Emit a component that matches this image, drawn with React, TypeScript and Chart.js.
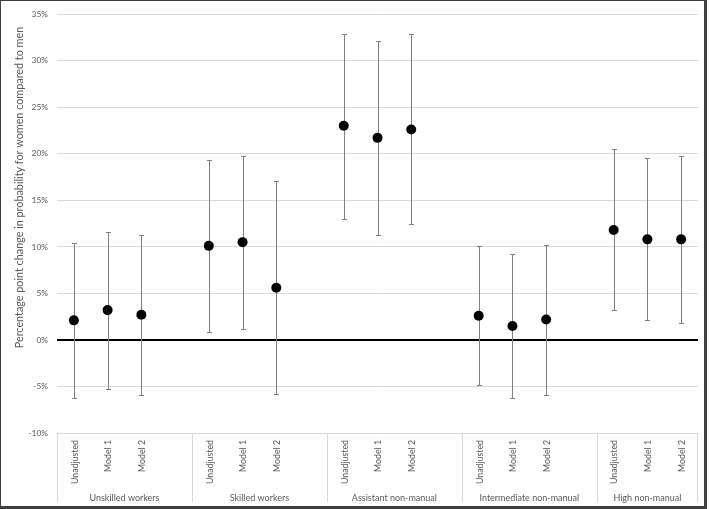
import React, { useEffect, useRef } from "react";
import { Chart, registerables } from "chart.js";

Chart.register(...registerables);

// ---- data ----
const groups = [
  "Unskilled workers",
  "Skilled workers",
  "Assistant non-manual",
  "Intermediate non-manual",
  "High non-manual",
];
const models = ["Unadjusted", "Model 1", "Model 2"];
const estimates = [2.1, 3.2, 2.7, 10.1, 10.5, 5.6, 23.0, 21.7, 22.6, 2.6, 1.5, 2.2, 11.8, 10.8, 10.8];
const lowerCI = [-6.2, -5.3, -5.9, 0.8, 1.2, -5.8, 13.0, 11.3, 12.4, -4.8, -6.2, -5.9, 3.2, 2.1, 1.8];
const upperCI = [10.4, 11.6, 11.3, 19.3, 19.8, 17.1, 32.9, 32.1, 32.9, 10.1, 9.2, 10.2, 20.5, 19.5, 19.8];
const yMin = -10;
const yMax = 35;
const yStep = 5;
const yTitle = "Percentage point change in probability for women compared to men";

// build category table with a blank slot between groups
const labels: string[] = [];
const pointData: (number | null)[] = [];
const loData: (number | null)[] = [];
const hiData: (number | null)[] = [];
const groupStart: number[] = [];
const groupCount: number[] = [];
groups.forEach((g, gi) => {
  groupStart.push(labels.length);
  models.forEach((m, mi) => {
    const k = gi * models.length + mi;
    labels.push(m);
    pointData.push(estimates[k]);
    loData.push(lowerCI[k]);
    hiData.push(upperCI[k]);
  });
  if (gi < groups.length - 1) {
    labels.push("");
    pointData.push(null);
    loData.push(null);
    hiData.push(null);
    groupCount.push(models.length + 1);
  } else {
    groupCount.push(models.length);
  }
});

const FONT = "Lato";
const TEXT = "#595959";
const GRID = "#d9d9d9";

const errorBarPlugin = {
  id: "errorBars",
  beforeDatasetsDraw(chart: any) {
    const { ctx, scales } = chart;
    const xs = scales.x;
    const ys = scales.y;
    ctx.save();
    ctx.strokeStyle = "#808080";
    ctx.lineWidth = 1;
    for (let i = 0; i < labels.length; i++) {
      const lo = loData[i];
      const hi = hiData[i];
      if (lo === null || hi === null) continue;
      const x = Math.round(xs.getPixelForValue(i)) + 0.5;
      const yl = Math.round(ys.getPixelForValue(lo)) + 0.5;
      const yh = Math.round(ys.getPixelForValue(hi)) + 0.5;
      ctx.beginPath();
      ctx.moveTo(x, yh);
      ctx.lineTo(x, yl);
      ctx.moveTo(x - 2.5, yh);
      ctx.lineTo(x + 2.5, yh);
      ctx.moveTo(x - 2.5, yl);
      ctx.lineTo(x + 2.5, yl);
      ctx.stroke();
    }
    ctx.restore();
  },
};

const groupAxisPlugin = {
  id: "groupAxis",
  afterDraw(chart: any) {
    const { ctx, scales, chartArea } = chart;
    const xs = scales.x;
    const half = (xs.getPixelForValue(1) - xs.getPixelForValue(0)) / 2;
    const top = chartArea.bottom;
    const bottom = top + 69;
    ctx.save();
    ctx.fillStyle = TEXT;

    // category labels, rotated, reading upward, ending near the axis
    ctx.font = `8.8px ${FONT}`;
    ctx.textAlign = "right";
    ctx.textBaseline = "middle";
    labels.forEach((lab, i) => {
      if (!lab) return;
      const x = xs.getPixelForValue(i);
      ctx.save();
      ctx.translate(x + 1, top + 7);
      ctx.rotate(-Math.PI / 2);
      ctx.fillText(lab, 0, 0);
      ctx.restore();
    });

    // group separators and labels
    ctx.strokeStyle = GRID;
    ctx.lineWidth = 1;
    ctx.font = `9px ${FONT}`;
    ctx.textAlign = "center";
    groups.forEach((g, gi) => {
      const s = groupStart[gi];
      const left = xs.getPixelForValue(s) - half;
      const right = xs.getPixelForValue(s + groupCount[gi] - 1) + half;
      const lx = Math.round(left) + 0.5;
      ctx.beginPath();
      ctx.moveTo(lx, top);
      ctx.lineTo(lx, bottom);
      if (gi === groups.length - 1) {
        const rx = Math.round(right) - 0.5;
        ctx.moveTo(rx, top);
        ctx.lineTo(rx, bottom);
      }
      ctx.stroke();
      ctx.fillText(g, (left + right) / 2, top + 65);
    });

    // y axis title
    ctx.translate(20, chartArea.top + 173.5);
    ctx.rotate(-Math.PI / 2);
    ctx.font = `10.8px ${FONT}`;
    ctx.fillText(yTitle, 0, 0);
    ctx.restore();
  },
};

export default function App() {
  const ref = useRef<HTMLCanvasElement | null>(null);
  useEffect(() => {
    if (!ref.current) return;
    const chart = new Chart(ref.current, {
      type: "line",
      data: {
        labels,
        datasets: [
          {
            data: pointData,
            showLine: false,
            pointRadius: 5,
            pointHoverRadius: 5,
            pointBackgroundColor: "#000",
            pointBorderColor: "#000",
            pointBorderWidth: 0,
          },
        ],
      },
      options: {
        animation: false,
        responsive: false,
        devicePixelRatio: 1,
        layout: { padding: { top: 10, right: 11, left: 0, bottom: 0 } },
        plugins: {
          legend: { display: false },
          tooltip: { enabled: false },
          title: { display: false },
        },
        scales: {
          x: {
            type: "category",
            offset: true,
            grid: { display: false },
            border: { display: false },
            ticks: { display: false, autoSkip: false },
            afterFit: (s: any) => {
              s.height = 76;
            },
          },
          y: {
            min: yMin,
            max: yMax,
            ticks: {
              stepSize: yStep,
              padding: 9,
              color: TEXT,
              font: { family: FONT, size: 8.4 },
              callback: (v: any) => `${v}%`,
            },
            grid: {
              drawTicks: false,
              color: (c: any) => (c.tick && c.tick.value === 0 ? "#000000" : GRID),
              lineWidth: (c: any) => (c.tick && c.tick.value === 0 ? 2 : 1),
            },
            border: { display: false },
            afterFit: (s: any) => {
              s.width = 57;
            },
          },
        },
      },
      plugins: [errorBarPlugin, groupAxisPlugin],
    });
    return () => chart.destroy();
  }, []);
  return (
    <div style={{ position: "absolute", left: 0, top: 0, width: 709, height: 509, background: "#fff" }}>
      <canvas ref={ref} width={709} height={509} style={{ position: "absolute", left: 0, top: 0, width: 709, height: 509 }} />
      <div
        style={{
          position: "absolute",
          left: 0,
          top: 0,
          width: 707,
          height: 509,
          boxSizing: "border-box",
          borderStyle: "solid",
          borderColor: "#3f3f3f",
          borderWidth: "1px 3px 3px 1px",
          pointerEvents: "none",
        }}
      />
    </div>
  );
}
